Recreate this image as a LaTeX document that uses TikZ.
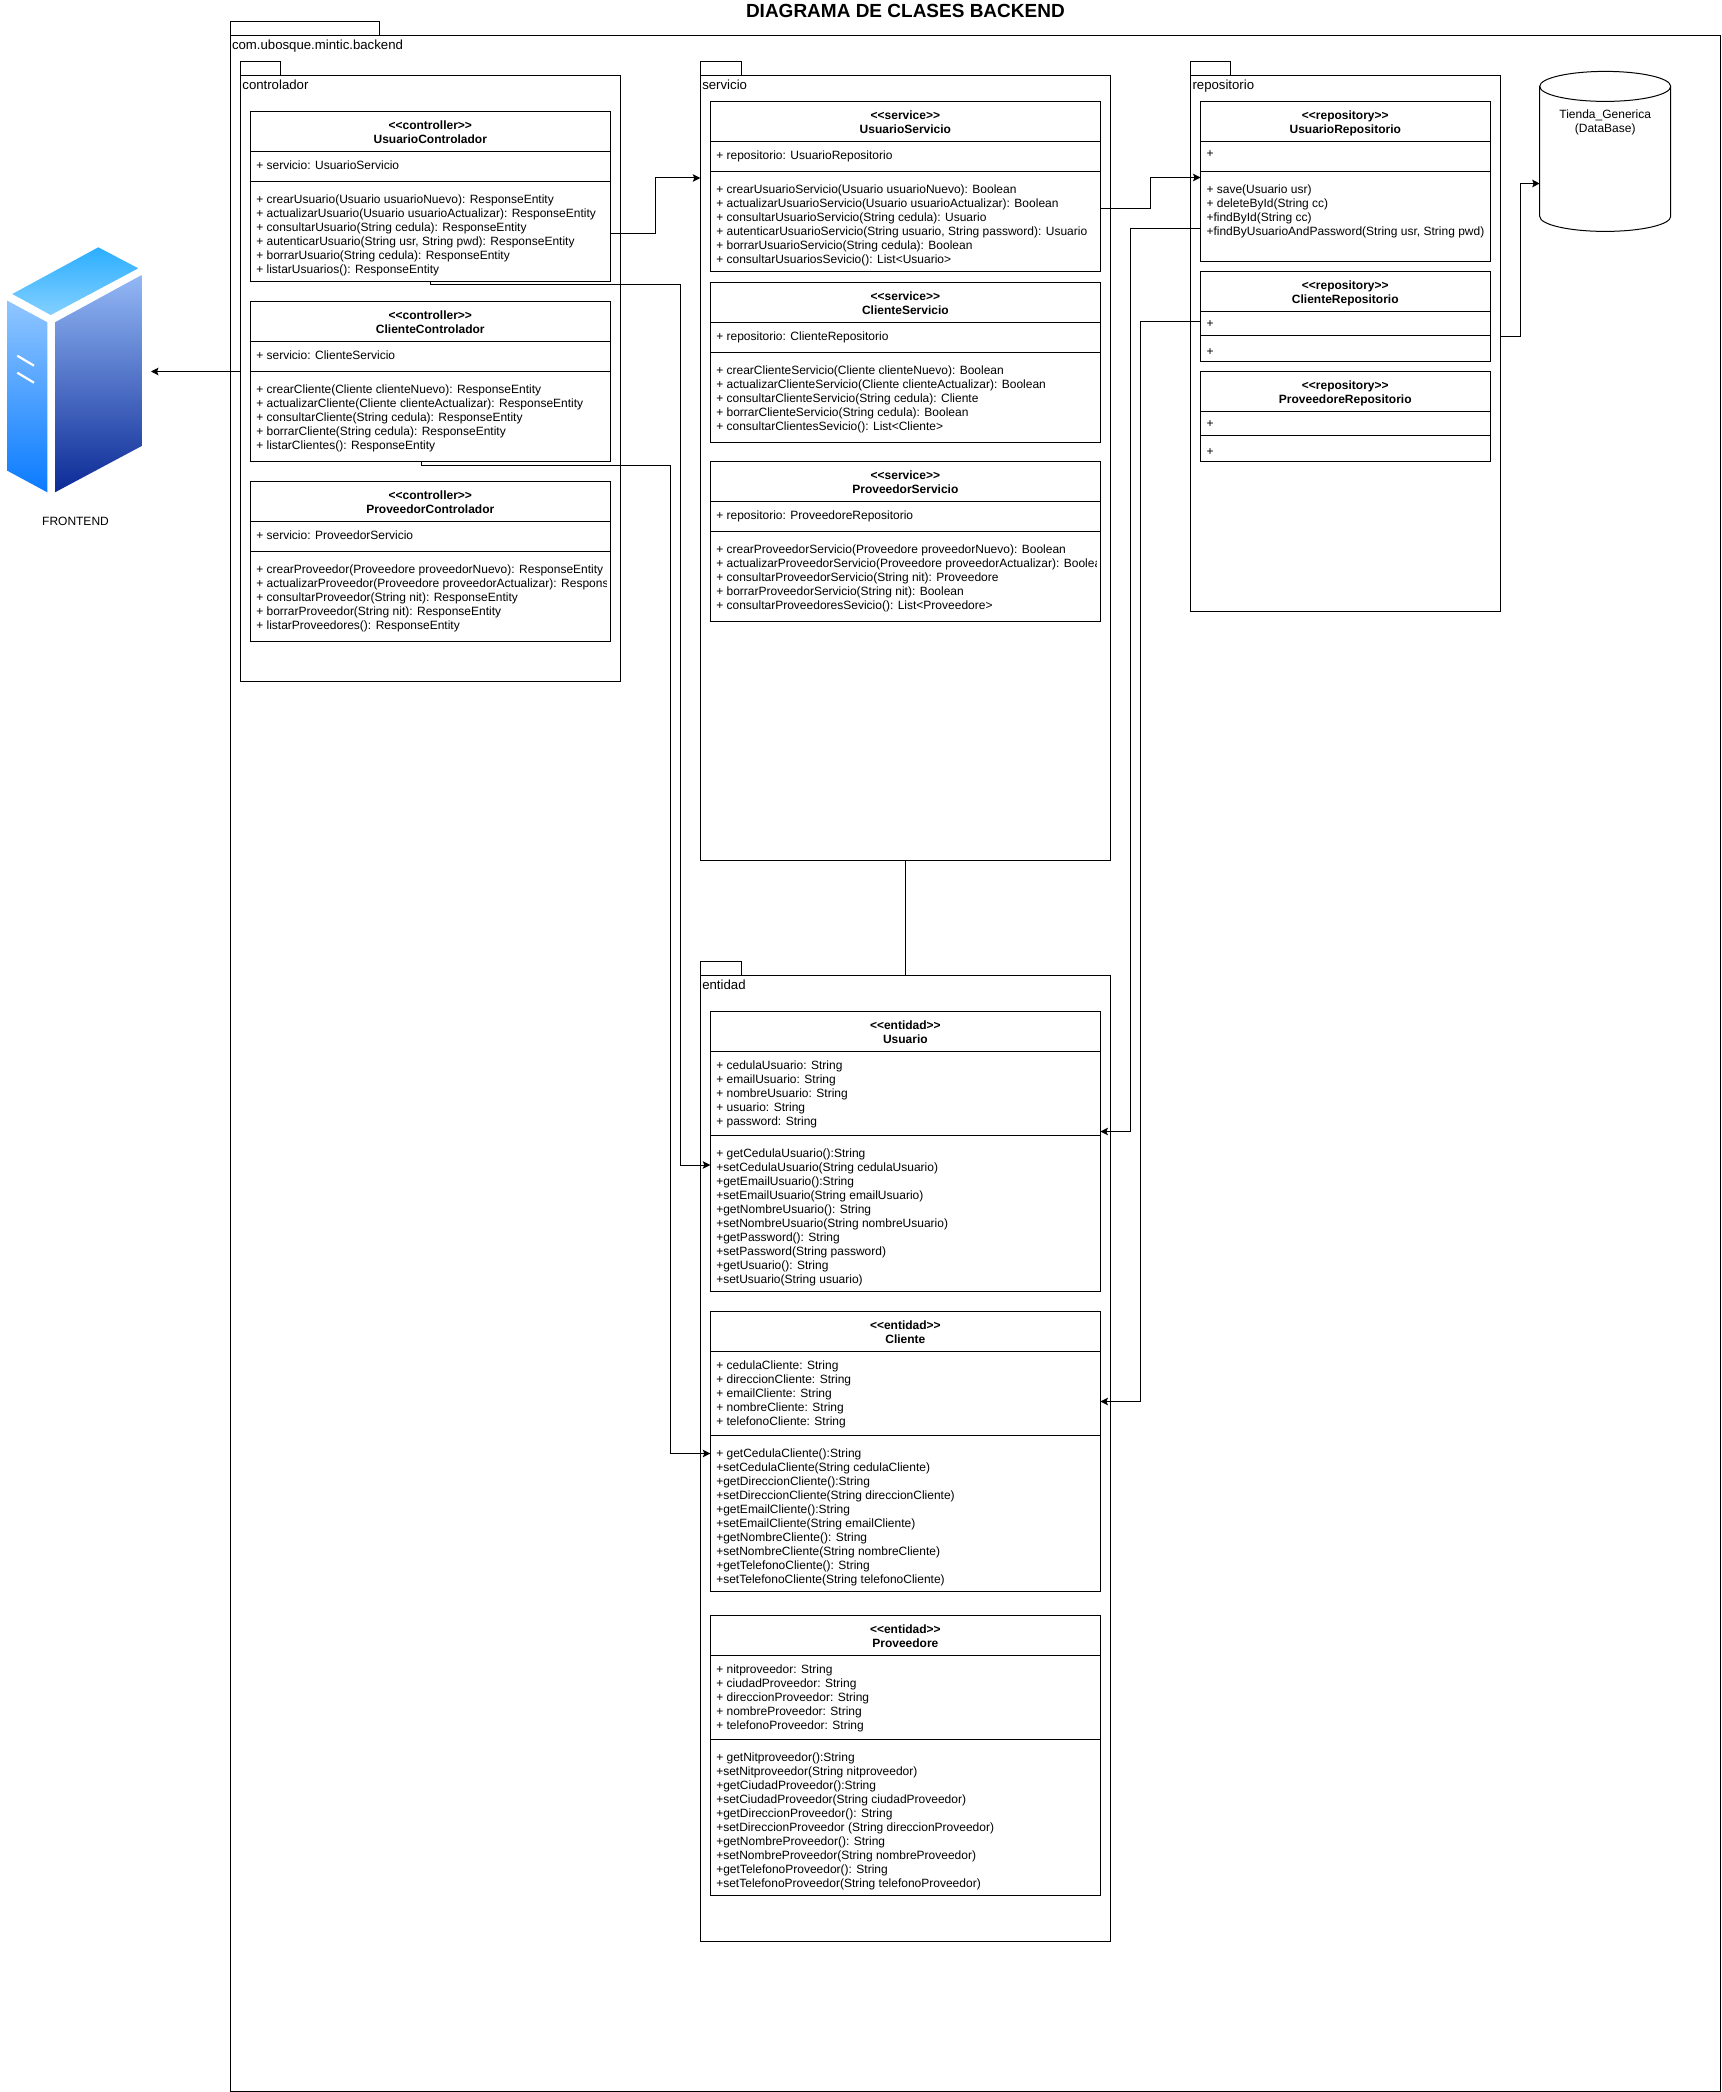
\documentclass[tikz,border=0pt]{standalone}
\usepackage{fontspec}
\setmainfont{Liberation Sans}
\usetikzlibrary{arrows.meta}
\definecolor{topA}{HTML}{2BAEFF}\definecolor{topB}{HTML}{83D0FF}
\definecolor{leftA}{HTML}{90C6FF}\definecolor{leftB}{HTML}{0A7BFF}
\definecolor{rightA}{HTML}{93B8F5}\definecolor{rightB}{HTML}{0C2A96}
\tikzset{
  x=1pt,y=-1pt,
  ln/.style={line width=1pt,draw=black},
  boxn/.style={ln,rectangle,inner sep=0pt,outer sep=0pt,anchor=north west,fill=white},
  txt/.style={inner sep=0pt,outer sep=0pt,anchor=north west,align=left,font=\fontsize{12}{14}\selectfont},
  ttl/.style={inner sep=0pt,outer sep=0pt,anchor=north,align=center,font=\fontsize{12}{14}\selectfont\bfseries},
  pk/.style={inner sep=0pt,outer sep=0pt,anchor=north west,font=\fontsize{13.2}{14}\selectfont},
  conn/.style={ln,-{Stealth[length=7.5pt,width=7.5pt,inset=1.5pt]}},
  plain/.style={ln},
}
\newcommand{\pkg}[8]{%
  \node[boxn,minimum width={(#4-#2)*1pt},minimum height={(#6-#5)*1pt}] (#1tab) at (#2,#5) {};
  \node[boxn,minimum width={(#3-#2)*1pt},minimum height={(#7-#6)*1pt}] (#1) at (#2,#6) {};
  \node[pk] (#1lab) at (#2+2,#6+4.2) {\strut #8};
}
% class: name x1 x2 y0 y1 y2 y3 stereotype title attrs methods
\newcommand{\cls}[9]{%
  \def\cA{#1}\def\cX{#2}\def\cR{#3}\def\cT{#4}\def\cH{#5}\def\cM{#6}\def\cB{#7}\def\cS{#8}\def\cN{#9}%
  \clsrest}
\newcommand{\clsrest}[2]{%
  \node[boxn,minimum width={(\cR-\cX)*1pt},minimum height={(\cB-\cT)*1pt}] (\cA) at (\cX,\cT) {};
  \draw[ln] (\cX,\cH) -- (\cR,\cH);
  \draw[ln] (\cX,\cM) -- (\cR,\cM);
  \node[ttl] (\cA head) at ({(\cX+\cR)/2},\cT+7.9) {\strut <{}<\cS>{}>\\\cN};
  \node[txt] (\cA attr) at (\cX+6,\cH+8.9) {#1};
  \node[txt] (\cA meth) at (\cX+6,\cM+12.9) {#2};
}
\begin{document}
\begin{tikzpicture}
\useasboundingbox (0,0) rectangle (1721,2092);
\fill[white] (0,0) rectangle (1721,2092);
% title
\node[inner sep=0pt,font=\fontsize{19}{21}\selectfont\bfseries] (title) at (905.4,11.4) {DIAGRAMA DE CLASES BACKEND};
% packages
\pkg{main}{230}{1720}{379.6}{21.5}{35.3}{2091}{com.ubosque.mintic.backend}
\pkg{ctrl}{240.4}{620.4}{280.4}{61.5}{75.5}{681.3}{controlador}
\pkg{serv}{700.3}{1110.3}{741.3}{61.5}{75.5}{860.8}{servicio}
\pkg{repo}{1190.5}{1500.4}{1230.8}{61.5}{75.5}{611.4}{repositorio}
\pkg{enti}{700.3}{1110.3}{741.5}{961.3}{975.5}{1941.4}{entidad}
% controllers
\cls{uc}{250.3}{610.3}{111.5}{151.5}{181.5}{281.5}{controller}{UsuarioControlador}
{+ servicio: UsuarioServicio}
{+ crearUsuario(Usuario usuarioNuevo): ResponseEntity\\
+ actualizarUsuario(Usuario usuarioActualizar): ResponseEntity\\
+ consultarUsuario(String cedula): ResponseEntity\\
+ autenticarUsuario(String usr, String pwd): ResponseEntity\\
+ borrarUsuario(String cedula): ResponseEntity\\
+ listarUsuarios(): ResponseEntity}
\cls{cc}{250.3}{610.3}{301.5}{341.5}{371.5}{461.5}{controller}{ClienteControlador}
{+ servicio: ClienteServicio}
{+ crearCliente(Cliente clienteNuevo): ResponseEntity\\
+ actualizarCliente(Cliente clienteActualizar): ResponseEntity\\
+ consultarCliente(String cedula): ResponseEntity\\
+ borrarCliente(String cedula): ResponseEntity\\
+ listarClientes(): ResponseEntity}
\cls{pc}{250.3}{610.3}{481.5}{521.5}{551.5}{641.5}{controller}{ProveedorControlador}
{+ servicio: ProveedorServicio}
{+ crearProveedor(Proveedore proveedorNuevo): ResponseEntity\\
+ actualizarProveedor(Proveedore proveedorActualizar): Respons\\
+ consultarProveedor(String nit): ResponseEntity\\
+ borrarProveedor(String nit): ResponseEntity\\
+ listarProveedores(): ResponseEntity}
\fill[white] (606.8,578) rectangle (609.7,592);
% services
\cls{us}{710.3}{1100.4}{101.5}{141.5}{171.5}{271.5}{service}{UsuarioServicio}
{+ repositorio: UsuarioRepositorio}
{+ crearUsuarioServicio(Usuario usuarioNuevo): Boolean\\
+ actualizarUsuarioServicio(Usuario usuarioActualizar): Boolean\\
+ consultarUsuarioServicio(String cedula): Usuario\\
+ autenticarUsuarioServicio(String usuario, String password): Usuario\\
+ borrarUsuarioServicio(String cedula): Boolean\\
+ consultarUsuariosSevicio(): List<Usuario>}
\cls{cs}{710.3}{1100.4}{282.5}{322.5}{352.5}{442.5}{service}{ClienteServicio}
{+ repositorio: ClienteRepositorio}
{+ crearClienteServicio(Cliente clienteNuevo): Boolean\\
+ actualizarClienteServicio(Cliente clienteActualizar): Boolean\\
+ consultarClienteServicio(String cedula): Cliente\\
+ borrarClienteServicio(String cedula): Boolean\\
+ consultarClientesSevicio(): List<Cliente>}
\cls{ps}{710.3}{1100.4}{461.5}{501.5}{531.5}{621.5}{service}{ProveedorServicio}
{+ repositorio: ProveedoreRepositorio}
{+ crearProveedorServicio(Proveedore proveedorNuevo): Boolean\\
+ actualizarProveedorServicio(Proveedore proveedorActualizar): Boolea\\
+ consultarProveedorServicio(String nit): Proveedore\\
+ borrarProveedorServicio(String nit): Boolean\\
+ consultarProveedoresSevicio(): List<Proveedore>}
\fill[white] (1096.7,558) rectangle (1104,572);
\draw[ln] (1100.4,555) -- (1100.4,575);
% repositories
\cls{ur}{1200.5}{1490}{101.5}{141.5}{171.5}{261.5}{repository}{UsuarioRepositorio}
{+}
{+ save(Usuario usr)\\
+ deleteById(String cc)\\
+findById(String cc)\\
+findByUsuarioAndPassword(String usr, String pwd)}
\cls{cr}{1200.5}{1490}{271.5}{311.5}{335.5}{361.5}{repository}{ClienteRepositorio}
{+}
{+}
\cls{pr}{1200.5}{1490}{371.5}{411.5}{435.5}{461.5}{repository}{ProveedoreRepositorio}
{+}
{+}
% entities
\cls{ue}{710.3}{1100.4}{1011.5}{1051.5}{1135.5}{1291.5}{entidad}{Usuario}
{+ cedulaUsuario: String\\
+ emailUsuario: String\\
+ nombreUsuario: String\\
+ usuario: String\\
+ password: String}
{+ getCedulaUsuario():String\\
+setCedulaUsuario(String cedulaUsuario)\\
+getEmailUsuario():String\\
+setEmailUsuario(String emailUsuario)\\
+getNombreUsuario(): String\\
+setNombreUsuario(String nombreUsuario)\\
+getPassword(): String\\
+setPassword(String password)\\
+getUsuario(): String\\
+setUsuario(String usuario)}
\cls{ce}{710.3}{1100.4}{1311.5}{1351.5}{1435.5}{1591.5}{entidad}{Cliente}
{+ cedulaCliente: String\\
+ direccionCliente: String\\
+ emailCliente: String\\
+ nombreCliente: String\\
+ telefonoCliente: String}
{+ getCedulaCliente():String\\
+setCedulaCliente(String cedulaCliente)\\
+getDireccionCliente():String\\
+setDireccionCliente(String direccionCliente)\\
+getEmailCliente():String\\
+setEmailCliente(String emailCliente)\\
+getNombreCliente(): String\\
+setNombreCliente(String nombreCliente)\\
+getTelefonoCliente(): String\\
+setTelefonoCliente(String telefonoCliente)}
\cls{pe}{710.3}{1100.4}{1615.5}{1655.5}{1739.5}{1895.5}{entidad}{Proveedore}
{+ nitproveedor: String\\
+ ciudadProveedor: String\\
+ direccionProveedor: String\\
+ nombreProveedor: String\\
+ telefonoProveedor: String}
{+ getNitproveedor():String\\
+setNitproveedor(String nitproveedor)\\
+getCiudadProveedor():String\\
+setCiudadProveedor(String ciudadProveedor)\\
+getDireccionProveedor(): String\\
+setDireccionProveedor (String direccionProveedor)\\
+getNombreProveedor(): String\\
+setNombreProveedor(String nombreProveedor)\\
+getTelefonoProveedor(): String\\
+setTelefonoProveedor(String telefonoProveedor)}
% database
\node[inner sep=0pt,outer sep=0pt,minimum width=131pt,minimum height=160pt,anchor=north west] (db) at (1539.7,71.4) {};
\draw[ln,fill=white] (db.north west) ++(0,15) arc[start angle=180,end angle=0,x radius=65.5pt,y radius=15pt] -- ++(0,130) arc[start angle=0,end angle=-180,x radius=65.5pt,y radius=15pt] -- cycle;
\draw[ln] (db.north west) ++(0,15) arc[start angle=180,end angle=360,x radius=65.5pt,y radius=15pt];
\node[inner sep=0pt,anchor=north,align=center,font=\fontsize{12}{14}\selectfont] (dblab) at (1605.2,108.5) {\strut Tienda\_Generica\\(DataBase)};
% frontend icon
\shade[top color=topA,bottom color=topB] (98.3,247.3) -- (138.3,268.3) -- (50.7,315) -- (12.3,294) -- cycle;
\shade[top color=leftA,bottom color=leftB] (7.3,300.7) -- (47.3,322.3) -- (47.3,492.3) -- (7.3,470.7) -- cycle;
\shade[top color=rightA,bottom color=rightB] (55,322.3) -- (141.7,275) -- (141.7,446) -- (55,492.3) -- cycle;
\draw[white,line width=2.2pt] (17.3,355.7) -- (34,365.7);
\draw[white,line width=2.2pt] (17.3,372.7) -- (34,382.7);
\node[inner sep=0pt,font=\fontsize{12}{14}\selectfont] (frontlab) at (75.5,521.4) {FRONTEND};
\coordinate (front) at (151,371.5);
% connectors
\draw[conn] (uc.east |- 0,233.5) -| (655.2,178) -- (serv.west |- 0,178);
\draw[conn] (us.east |- 0,208.5) -| (1150,177.5) -- (ur.west |- 0,177.5);
\draw[conn] (repo.east |- 0,336.5) -| (1520.4,183.5) -- (db.west |- 0,183.5);
\draw[conn] (uc.south -| 430.3,0) |- (680.3,284.8) |- (ue.west |- 0,1165);
\draw[conn] (cc.south -| 421.3,0) |- (670.3,465.3) |- (ce.west |- 0,1453.5);
\draw[conn] (ur.west |- 0,228.5) -| (1130.3,1131.5) -- (ue.east |- 0,1131.5);
\draw[conn] (cr.west |- 0,321.5) -| (1140.3,1401.5) -- (ce.east |- 0,1401.5);
\draw[plain] (serv.south) -- (enti.north);
\draw[conn] (ctrl.west |- 0,371.5) -- (front);
\end{tikzpicture}
\end{document}
